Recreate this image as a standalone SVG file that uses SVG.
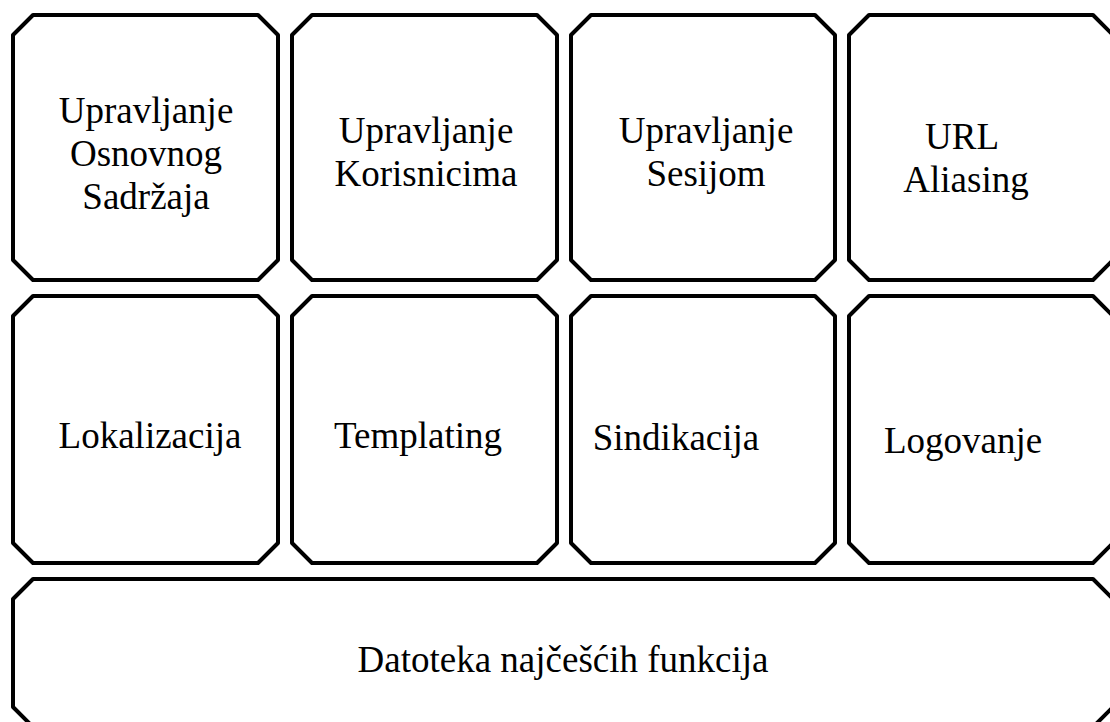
<svg xmlns="http://www.w3.org/2000/svg" width="1110" height="722" viewBox="0 0 1110 722">
<style>
.box{fill:#fff;stroke:#000;stroke-width:4;stroke-linejoin:round}
.t{font-family:"Liberation Serif","Times New Roman",serif;font-size:37px;fill:#000;text-anchor:middle}
</style>
<rect width="1110" height="722" fill="#fff"/>
<g id="n1"><path class="box" d="M33,15H258L278,35V260L258,280H33L13,260V35Z"/>
<text class="t" x="146" y="123">Upravljanje</text><text class="t" x="146" y="166">Osnovnog</text><text class="t" x="146" y="209">Sadržaja</text></g>
<g id="n2"><path class="box" d="M312,15H537L557,35V260L537,280H312L292,260V35Z"/>
<text class="t" x="426" y="143">Upravljanje</text><text class="t" x="426" y="186">Korisnicima</text></g>
<g id="n3"><path class="box" d="M591,15H815L835,35V260L815,280H591L571,260V35Z"/>
<text class="t" x="706" y="143">Upravljanje</text><text class="t" x="706" y="186">Sesijom</text></g>
<g id="n4"><path class="box" d="M869,15H1093L1113,35V260L1093,280H869L849,260V35Z"/>
<text class="t" x="962" y="149">URL</text><text class="t" x="966" y="192">Aliasing</text></g>
<g id="n5"><path class="box" d="M33,296H258L278,316V543L258,563H33L13,543V316Z"/>
<text class="t" x="150" y="448">Lokalizacija</text></g>
<g id="n6"><path class="box" d="M312,296H537L557,316V543L537,563H312L292,543V316Z"/>
<text class="t" x="418" y="448">Templating</text></g>
<g id="n7"><path class="box" d="M591,296H815L835,316V543L815,563H591L571,543V316Z"/>
<text class="t" x="676" y="450">Sindikacija</text></g>
<g id="n8"><path class="box" d="M869,296H1093L1113,316V543L1093,563H869L849,543V316Z"/>
<text class="t" x="963" y="453">Logovanje</text></g>
<g id="n9"><path class="box" d="M33,579H1093L1113,599V707L1093,727H33L13,707V599Z"/>
<text class="t" x="563" y="672">Datoteka najčešćih funkcija</text></g>
<g id="connectors"></g>
</svg>
